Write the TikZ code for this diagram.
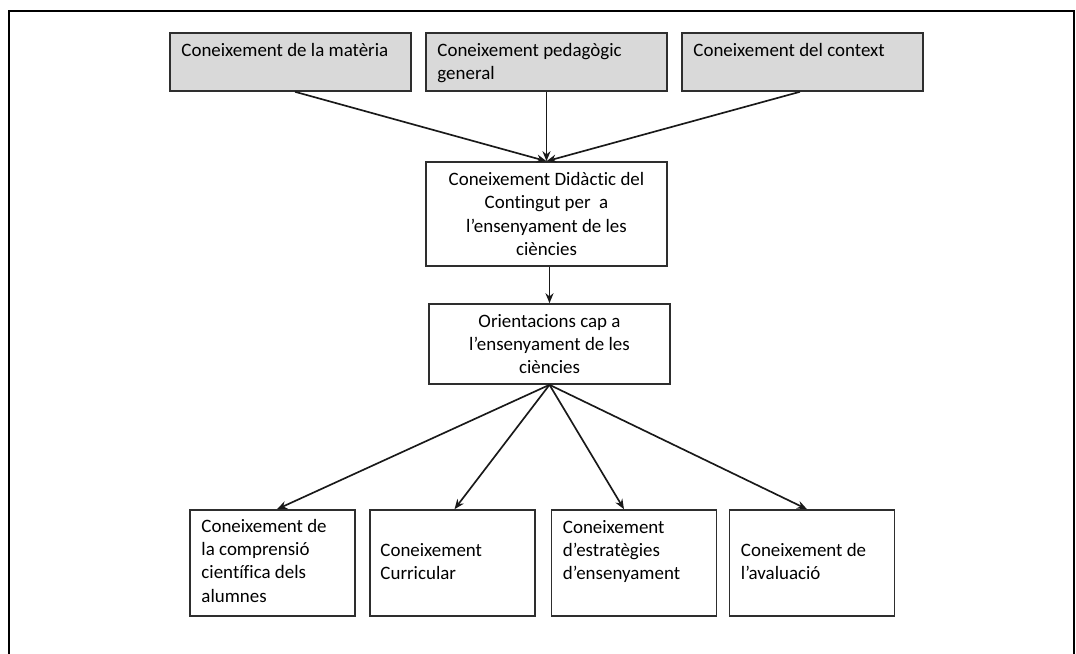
\documentclass[tikz,border=0pt]{standalone}
\usepackage{fontspec}
\setmainfont{Carlito}[Ligatures=NoCommon]
\usetikzlibrary{arrows.meta}
\definecolor{boxgray}{HTML}{D9D9D9}
\definecolor{edge}{HTML}{2E2E2E}
\begin{document}
\begin{tikzpicture}[x=0.75pt,y=-0.75pt,
  font=\fontsize{14.2pt}{17.5pt}\selectfont,
  box/.style={draw=edge, line width=1.2pt, inner sep=0pt, minimum width=180.75pt},
  topbox/.style={box, fill=boxgray, minimum height=43.5pt},
  lowbox/.style={box, minimum width=123.75pt, minimum height=79.5pt},
  txt/.style={anchor=base west, align=flush left, text width=175pt, inner sep=0pt},
  link/.style={draw=black!90, line width=1.25pt, -{Stealth[length=7.5pt,width=6pt]}}
]
\useasboundingbox (0,0) rectangle (1076,654);
% outer frame (open at the bottom)
\draw[line width=2.2pt] (9,654) -- (9,11) -- (1074,11) -- (1074,654);

% top row: source knowledge
\node[topbox] (mat) at (290.5,62) {};
\node[topbox] (ped) at (546.5,62) {};
\node[topbox] (ctx) at (802.5,62) {};
\node[txt] at ([xshift=9pt,yshift=-18pt]mat.north west) {Coneixement de la matèria};
\node[txt] at ([xshift=9pt,yshift=-18pt]ped.north west) {Coneixement pedagògic\\general};
\node[txt] at ([xshift=9pt,yshift=-18pt]ctx.north west) {Coneixement del context};

% central chain
\node[box, minimum height=78pt, align=center] (cdc) at (546.5,214)
  {Coneixement Didàctic del\\Contingut per~ a\\l’ensenyament de les\\ciències};
\node[box, minimum height=60pt, align=center] (ori) at (549.5,344)
  {Orientacions cap a\\l’ensenyament de les\\ciències};

% bottom row
\node[lowbox] (alu) at (272.5,563) {};
\node[lowbox] (cur) at (452.5,563) {};
\node[lowbox] (est) at (634,563) {};
\node[lowbox] (ava) at (812,563) {};
\node[txt] at ([xshift=9pt,yshift=-17.25pt]alu.north west) {Coneixement de\\la comprensió\\científica dels\\alumnes};
\node[txt] at ([xshift=8.25pt,yshift=-35.25pt]cur.north west) {Coneixement\\Curricular};
\node[txt] at ([xshift=9pt,yshift=-18pt]est.north west) {Coneixement\\d’estratègies\\d’ensenyament};
\node[txt] at ([xshift=9pt,yshift=-35.25pt]ava.north west) {Coneixement de\\l’avaluació};

% connectors
\draw[link] ([xshift=3.4pt]mat.south) -- (cdc.north);
\draw[link] (ped.south) -- (cdc.north);
\draw[link] ([xshift=-1.9pt]ctx.south) -- (cdc.north);
\draw[link] (ori.north |- cdc.south) -- (ori.north);
\draw[link] (ori.south) -- ([xshift=3.4pt]alu.north);
\draw[link] (ori.south) -- ([xshift=1.5pt]cur.north);
\draw[link] (ori.south) -- ([xshift=-7.5pt]est.north);
\draw[link] (ori.south) -- ([xshift=-3.75pt]ava.north);
\end{tikzpicture}
\end{document}
